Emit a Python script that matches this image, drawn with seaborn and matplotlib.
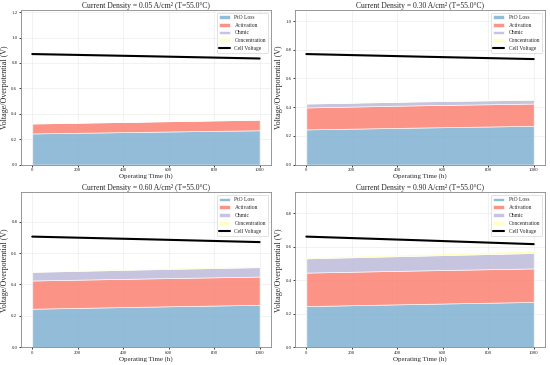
import numpy as np
import pandas as pd
import matplotlib
matplotlib.use('Agg')
import matplotlib.pyplot as plt
import seaborn as sns

# operating time samples (h)
time_h = [0, 500, 1000]
current_densities = [0.05, 0.30, 0.60, 0.90]
temperature_c = 55.0

# per-panel stacked losses (V)
pto_loss = [
    [0.245, 0.258, 0.270],
    [0.245, 0.258, 0.270],
    [0.245, 0.258, 0.270],
    [0.245, 0.258, 0.270],
]
activation = [
    [0.078, 0.080, 0.083],
    [0.153, 0.155, 0.155],
    [0.180, 0.180, 0.180],
    [0.200, 0.200, 0.200],
]
ohmic = [
    [0.003, 0.003, 0.003],
    [0.027, 0.027, 0.027],
    [0.055, 0.058, 0.060],
    [0.085, 0.088, 0.092],
]
concentration = [
    [0.001, 0.001, 0.001],
    [0.003, 0.004, 0.005],
    [0.005, 0.006, 0.008],
    [0.007, 0.010, 0.014],
]
cell_voltage = [
    [0.870, 0.853, 0.835],
    [0.770, 0.752, 0.735],
    [0.705, 0.688, 0.670],
    [0.660, 0.638, 0.615],
]

loss_names = ['PtO Loss', 'Activation', 'Ohmic', 'Concentration']

sns.set_theme(style='whitegrid')
plt.rcParams['font.family'] = ['Liberation Serif', 'DejaVu Serif']
pal = sns.color_palette('Set3', 6)
colors = [pal[4], pal[3], pal[2], pal[1]]

fig, axes = plt.subplots(2, 2, figsize=(11, 7.3), dpi=50)
axes = axes.flatten()

for i, ax in enumerate(axes):
    df = pd.DataFrame({'time': time_h, 'cell': cell_voltage[i]})
    stacks = [pto_loss[i], activation[i], ohmic[i], concentration[i]]
    ax.stackplot(time_h, *stacks, labels=loss_names, colors=colors, alpha=0.85)
    sns.lineplot(data=df, x='time', y='cell', ax=ax, color='black', linewidth=3,
                 label='Cell Voltage')
    ax.set_ylim(0, max(cell_voltage[i]) * 1.4)
    ax.set_xlim(-50, 1050)
    ax.set_title(f'Current Density = {current_densities[i]:.2f} A/cm² (T={temperature_c}°C)',
                 fontsize=11, pad=3)
    ax.set_xlabel('Operating Time (h)', fontsize=10, labelpad=2)
    ax.set_ylabel('Voltage/Overpotential (V)', fontsize=11.5, labelpad=3)
    ax.tick_params(labelsize=7, length=3, pad=2, left=True, bottom=True)
    ax.grid(True, color='#e8e8e8', linewidth=0.8)
    for s in ax.spines.values():
        s.set_color('#888888')
        s.set_linewidth(1.2)
    leg = ax.legend(loc='upper right', fontsize=8, frameon=True)
    leg.get_frame().set_edgecolor('#cccccc')

fig.subplots_adjust(left=0.038, right=0.991, top=0.973, bottom=0.049, wspace=0.096, hspace=0.18)
fig.savefig('out.png', dpi=50)
